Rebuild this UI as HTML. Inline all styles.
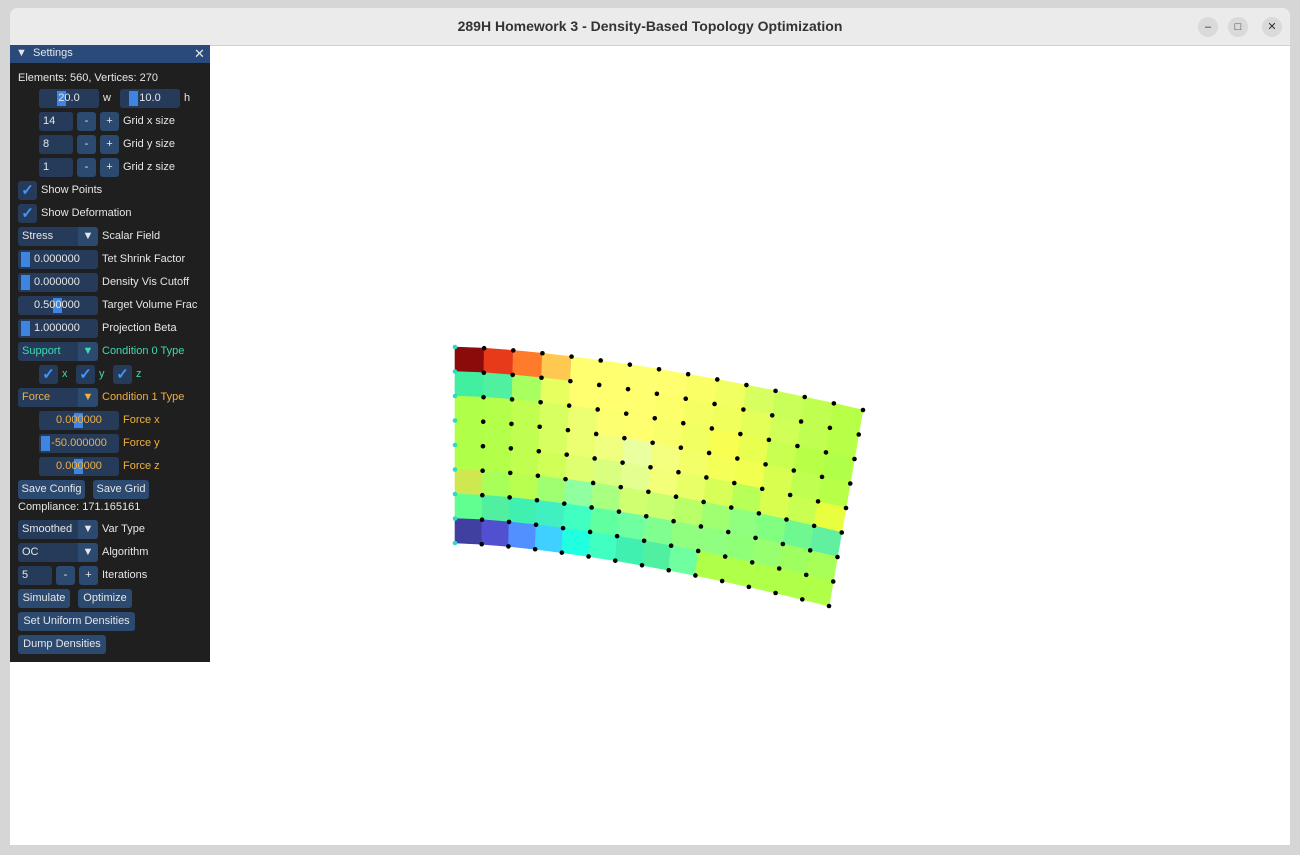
<!DOCTYPE html>
<html><head><meta charset="utf-8">
<style>
body{margin:0;width:1300px;height:855px;background:#d6d6d6;overflow:hidden;font-family:"Liberation Sans",sans-serif;position:relative}
#win{position:absolute;left:10px;top:8px;width:1280px;height:837px;background:#fff;border-radius:8px 8px 0 0;overflow:hidden}
#titlebar{position:absolute;left:0;top:0;width:1280px;height:37px;background:#ebebeb;border-bottom:1px solid #d0d0d0}
#title{position:absolute;left:0;width:1280px;top:10px;text-align:center;font-weight:bold;font-size:14px;color:#333}
.wb{position:absolute;top:9px;width:20px;height:20px;border-radius:10px;background:#dadada;font-size:11px;text-align:center;line-height:20px;color:#333}
#panel{position:absolute;left:0;top:37px;width:200px;height:617px;background:#1f1f1f;font-size:11px;color:#e6e6e6}
#ph{position:absolute;left:0;top:0;width:200px;height:18px;background:#294a7a}
.a{position:absolute;white-space:nowrap}
.f{position:absolute;height:19px;background:#263b5a;border-radius:3px;line-height:19px;white-space:nowrap}
.b{position:absolute;height:19px;background:#2c4a70;border-radius:3px;line-height:19px;text-align:center;white-space:nowrap}
.g{position:absolute;height:15px;top:2px;background:#3d85e0;width:9px}
.cb{position:absolute;width:19px;height:19px;background:#263b5a;border-radius:3px;color:#4296fa;font-size:15px;line-height:19px;text-align:center;font-weight:bold}
.dd{position:absolute;right:0;top:0;width:20px;height:19px;background:#2c4a70;border-radius:0 3px 3px 0;text-align:center;font-size:11px}
.t{color:#3ddbb0}.o{color:#f0b040}
</style></head><body>
<div id="win">
<div id="titlebar">
<div id="title">289H Homework 3 - Density-Based Topology Optimization</div>
<div class="wb" style="left:1188px">–</div>
<div class="wb" style="left:1218px">□</div>
<div class="wb" style="left:1252px">✕</div>
</div>
<svg id="view" style="position:absolute;left:0;top:37px" width="1280" height="800"></svg>
<div id="panel">
<div id="ph"><span class="a" style="left:6px;top:2px">▼&nbsp; Settings</span><span class="a" style="left:184px;top:1px;font-size:13px">✕</span></div>
<div class="a" style="left:8px;top:27px">Elements: 560, Vertices: 270</div>
<div class="f" style="left:29px;top:44px;width:60px;text-align:center"><div class="g" style="left:18px"></div><span style="position:relative">20.0</span></div>
<div class="a" style="left:93px;top:47px">w</div>
<div class="f" style="left:110px;top:44px;width:60px;text-align:center"><div class="g" style="left:9px"></div><span style="position:relative">10.0</span></div>
<div class="a" style="left:174px;top:47px">h</div>

<div class="f" style="left:29px;top:67px;width:34px;padding-left:4px;box-sizing:border-box">14</div>
<div class="b" style="left:67px;top:67px;width:19px">-</div>
<div class="b" style="left:90px;top:67px;width:19px">+</div>
<div class="a" style="left:113px;top:70px">Grid x size</div>
<div class="f" style="left:29px;top:90px;width:34px;padding-left:4px;box-sizing:border-box">8</div>
<div class="b" style="left:67px;top:90px;width:19px">-</div>
<div class="b" style="left:90px;top:90px;width:19px">+</div>
<div class="a" style="left:113px;top:93px">Grid y size</div>
<div class="f" style="left:29px;top:113px;width:34px;padding-left:4px;box-sizing:border-box">1</div>
<div class="b" style="left:67px;top:113px;width:19px">-</div>
<div class="b" style="left:90px;top:113px;width:19px">+</div>
<div class="a" style="left:113px;top:116px">Grid z size</div>

<div class="cb" style="left:8px;top:136px">✓</div>
<div class="a" style="left:31px;top:139px">Show Points</div>
<div class="cb" style="left:8px;top:159px">✓</div>
<div class="a" style="left:31px;top:162px">Show Deformation</div>

<div class="f" style="left:8px;top:182px;width:80px;padding-left:4px;box-sizing:border-box">Stress<div class="dd">▼</div></div>
<div class="a" style="left:92px;top:185px">Scalar Field</div>
<div class="f" style="left:8px;top:205px;width:80px;padding-left:16px;box-sizing:border-box"><div class="g" style="left:3px"></div>0.000000</div>
<div class="a" style="left:92px;top:208px">Tet Shrink Factor</div>
<div class="f" style="left:8px;top:228px;width:80px;padding-left:16px;box-sizing:border-box"><div class="g" style="left:3px"></div>0.000000</div>
<div class="a" style="left:92px;top:231px">Density Vis Cutoff</div>
<div class="f" style="left:8px;top:251px;width:80px;padding-left:16px;box-sizing:border-box"><div class="g" style="left:35px"></div><span style="position:relative">0.500000</span></div>
<div class="a" style="left:92px;top:254px">Target Volume Frac</div>
<div class="f" style="left:8px;top:274px;width:80px;padding-left:16px;box-sizing:border-box"><div class="g" style="left:3px"></div>1.000000</div>
<div class="a" style="left:92px;top:277px">Projection Beta</div>

<div class="f t" style="left:8px;top:297px;width:80px;padding-left:4px;box-sizing:border-box">Support<div class="dd">▼</div></div>
<div class="a t" style="left:92px;top:300px">Condition 0 Type</div>
<div class="cb" style="left:29px;top:320px">✓</div><div class="a t" style="left:52px;top:323px">x</div>
<div class="cb" style="left:66px;top:320px">✓</div><div class="a t" style="left:89px;top:323px">y</div>
<div class="cb" style="left:103px;top:320px">✓</div><div class="a t" style="left:126px;top:323px">z</div>

<div class="f o" style="left:8px;top:343px;width:80px;padding-left:4px;box-sizing:border-box">Force<div class="dd">▼</div></div>
<div class="a o" style="left:92px;top:346px">Condition 1 Type</div>
<div class="f o" style="left:29px;top:366px;width:80px;text-align:center"><div class="g" style="left:35px"></div><span style="position:relative">0.000000</span></div>
<div class="a o" style="left:113px;top:369px">Force x</div>
<div class="f o" style="left:29px;top:389px;width:80px;text-align:center"><div class="g" style="left:2px"></div><span style="position:relative">-50.000000</span></div>
<div class="a o" style="left:113px;top:392px">Force y</div>
<div class="f o" style="left:29px;top:412px;width:80px;text-align:center"><div class="g" style="left:35px"></div><span style="position:relative">0.000000</span></div>
<div class="a o" style="left:113px;top:415px">Force z</div>

<div class="b" style="left:8px;top:435px;width:67px">Save Config</div>
<div class="b" style="left:83px;top:435px;width:56px">Save Grid</div>
<div class="a" style="left:8px;top:456px">Compliance: 171.165161</div>
<div class="f" style="left:8px;top:475px;width:80px;padding-left:4px;box-sizing:border-box">Smoothed<div class="dd">▼</div></div>
<div class="a" style="left:92px;top:478px">Var Type</div>
<div class="f" style="left:8px;top:498px;width:80px;padding-left:4px;box-sizing:border-box">OC<div class="dd">▼</div></div>
<div class="a" style="left:92px;top:501px">Algorithm</div>
<div class="f" style="left:8px;top:521px;width:34px;padding-left:4px;box-sizing:border-box">5</div>
<div class="b" style="left:46px;top:521px;width:19px">-</div>
<div class="b" style="left:69px;top:521px;width:19px">+</div>
<div class="a" style="left:92px;top:524px">Iterations</div>
<div class="b" style="left:8px;top:544px;width:52px">Simulate</div>
<div class="b" style="left:68px;top:544px;width:54px">Optimize</div>
<div class="b" style="left:8px;top:567px;width:117px">Set Uniform Densities</div>
<div class="b" style="left:8px;top:590px;width:88px">Dump Densities</div>
</div>
</div>
<script>
const nx = [14];
const ny = [8];
const cellColors = [
["#8b0a0a","#e63a1a","#ff7a2a","#ffc850","#ffff70","#ffff70","#ffff72","#ffff70","#fbff66","#f2ff60","#d8ff60","#c8ff58","#c0ff50","#b8ff48"],
["#40f0a0","#50f0a0","#a8ff60","#e8ff60","#ffff70","#ffff70","#ffff70","#fcff6a","#f6ff62","#f0ff5c","#e4ff58","#d0ff58","#c0ff50","#b8ff48"],
["#b0ff48","#b4ff4a","#c0ff50","#d8ff60","#ecff70","#fcff70","#ffff70","#f8ff6a","#f2ff60","#f8ff50","#e8ff50","#c8ff50","#b8ff48","#b0ff48"],
["#b0ff48","#b4ff4a","#c0ff50","#d8ff60","#ecff70","#f0ff80","#eaffa0","#f4ff80","#f2ff68","#f4ff58","#f0ff50","#d8ff50","#c0ff50","#b8ff48"],
["#b0ff48","#b4ff4a","#c0ff50","#d0ff58","#e0ff70","#d8ff80","#e4ff90","#f4ff78","#e8ff68","#d8ff58","#b8ff58","#d8ff50","#c8ff50","#e8ff40"],
["#d0e850","#a8ff58","#b8ff50","#a0ff70","#90ffa0","#a8ff80","#d0ff70","#c8ff70","#b8ff68","#a0ff70","#90ff80","#80ff80","#70f890","#60f0a0"],
["#60ff90","#50f0a0","#40f0b0","#40f0c0","#40ffc0","#60ffa0","#70ffa0","#80ff90","#90ff80","#90ff80","#90ff78","#98ff70","#a0ff60","#a8ff58"],
["#4040a0","#5050d0","#5090ff","#40d0ff","#20ffe0","#40ffc0","#40f0b0","#50f0a0","#70ffa0","#b0ff48","#b0ff48","#b0ff48","#b0ff48","#b0ff48"]
];
const svg = document.getElementById('view');
const NS = 'http://www.w3.org/2000/svg';
const OY = 45, OX = 10;
function P(i, j) {
  const u = i / nx[0], v = j / ny[0];
  const xt = 455 + (863 - 455) * u, xb = 455 + (829 - 455) * u;
  const yt = 347 + 63 * Math.pow(u, 1.5), yb = 543 + 63 * Math.pow(u, 1.5);
  return [xt + (xb - xt) * v - OX, yt + (yb - yt) * v - OY];
}
for (let j = 0; j < ny[0]; j++) for (let i = 0; i < nx[0]; i++) {
  const a = P(i, j), b = P(i + 1, j), c = P(i + 1, j + 1), d = P(i, j + 1);
  const poly = document.createElementNS(NS, 'polygon');
  poly.setAttribute('points', [a, b, c, d].map(p => p.join(',')).join(' '));
  poly.setAttribute('fill', cellColors[j][i]);
  poly.setAttribute('stroke', cellColors[j][i]);
  poly.setAttribute('stroke-width', '0.6');
  
  
  svg.appendChild(poly);
}
for (let j = 0; j <= ny[0]; j++) for (let i = 0; i <= nx[0]; i++) {
  const p = P(i, j);
  const c = document.createElementNS(NS, 'circle');
  c.setAttribute('cx', p[0]); c.setAttribute('cy', p[1]); c.setAttribute('r', '2.3');
  c.setAttribute('fill', i === 0 ? '#30d8c8' : '#000');
  
  
  svg.appendChild(c);
}
</script>
</body></html>
